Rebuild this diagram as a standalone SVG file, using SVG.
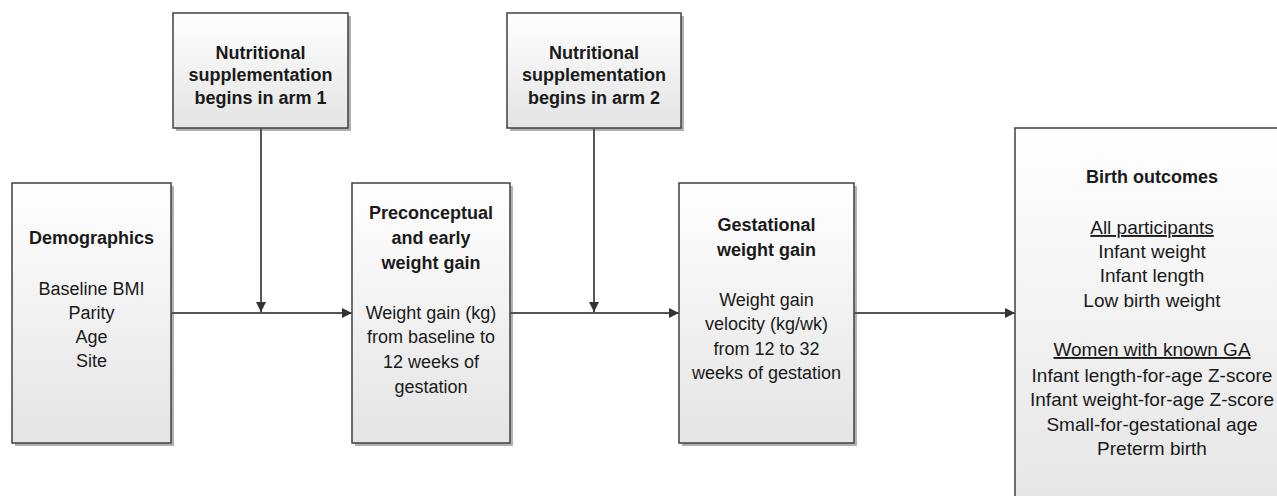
<svg xmlns="http://www.w3.org/2000/svg" width="1277" height="496" viewBox="0 0 1277 496">
<defs>
<linearGradient id="g" x1="0" y1="0" x2="0" y2="1">
<stop offset="0" stop-color="#ffffff"/>
<stop offset="1" stop-color="#e4e4e4"/>
</linearGradient>
<marker id="ah" viewBox="0 0 10 10" refX="10" refY="5" markerWidth="10" markerHeight="10" markerUnits="userSpaceOnUse" orient="auto">
<path d="M0,0 L10,5 L0,10 z" fill="#333"/>
</marker>
</defs>
<style>
.box{fill:url(#g);stroke:#404040;stroke-width:1.5}
.sh{fill:#b0b0b0}
.t{font-family:"Liberation Sans",Arial,sans-serif;font-size:18px;fill:#1a1a1a;text-anchor:middle}
.lg{font-size:19px}
.b{font-weight:bold}
.u{text-decoration:underline}
.c{stroke:#555;stroke-width:2;fill:none;marker-end:url(#ah)}
</style>
<rect width="1277" height="496" fill="#fff"/>
<g id="n-arm1">
<rect class="sh" x="176" y="16" width="175" height="115"/>
<rect class="box" x="173" y="13" width="175" height="115"/>
<text class="t b" x="260.5" y="59">Nutritional</text>
<text class="t b" x="260.5" y="81">supplementation</text>
<text class="t b" x="260.5" y="104">begins in arm 1</text>
</g>
<g id="n-arm2">
<rect class="sh" x="510" y="16" width="174" height="115"/>
<rect class="box" x="507" y="13" width="174" height="115"/>
<text class="t b" x="594" y="59">Nutritional</text>
<text class="t b" x="594" y="81">supplementation</text>
<text class="t b" x="594" y="104">begins in arm 2</text>
</g>
<g id="n-demo">
<rect class="sh" x="15" y="186" width="159" height="260"/>
<rect class="box" x="12" y="183" width="159" height="260"/>
<text class="t b" x="91.5" y="244">Demographics</text>
<text class="t" x="91.5" y="295">Baseline BMI</text>
<text class="t" x="91.5" y="319">Parity</text>
<text class="t" x="91.5" y="343">Age</text>
<text class="t" x="91.5" y="367">Site</text>
</g>
<g id="n-pre">
<rect class="sh" x="355" y="186" width="158" height="260"/>
<rect class="box" x="352" y="183" width="158" height="260"/>
<text class="t b" x="431" y="219">Preconceptual</text>
<text class="t b" x="431" y="244">and early</text>
<text class="t b" x="431" y="269">weight gain</text>
<text class="t" x="431" y="319">Weight gain (kg)</text>
<text class="t" x="431" y="343">from baseline to</text>
<text class="t" x="431" y="368">12 weeks of</text>
<text class="t" x="431" y="393">gestation</text>
</g>
<g id="n-gest">
<rect class="sh" x="682" y="186" width="175" height="260"/>
<rect class="box" x="679" y="183" width="175" height="260"/>
<text class="t b" x="766.5" y="231">Gestational</text>
<text class="t b" x="766.5" y="256">weight gain</text>
<text class="t" x="766.5" y="306">Weight gain</text>
<text class="t" x="766.5" y="330">velocity (kg/wk)</text>
<text class="t" x="766.5" y="355">from 12 to 32</text>
<text class="t" x="766.5" y="379">weeks of gestation</text>
</g>
<g id="n-birth">
<rect class="box" x="1015" y="128" width="290" height="400"/>
<text class="t b" x="1152" y="183">Birth outcomes</text>
<text class="t lg u" x="1152" y="234">All participants</text>
<text class="t lg" x="1152" y="258">Infant weight</text>
<text class="t lg" x="1152" y="282">Infant length</text>
<text class="t lg" x="1152" y="307">Low birth weight</text>
<text class="t lg u" x="1152" y="356">Women with known GA</text>
<text class="t lg" x="1152" y="382">Infant length-for-age Z-score</text>
<text class="t lg" x="1152" y="406">Infant weight-for-age Z-score</text>
<text class="t lg" x="1152" y="431">Small-for-gestational age</text>
<text class="t lg" x="1152" y="455">Preterm birth</text>
</g>
<g id="connectors">
<line class="c" x1="171" y1="313" x2="352" y2="313"/>
<line class="c" x1="261" y1="128" x2="261" y2="312"/>
<line class="c" x1="510" y1="313" x2="679" y2="313"/>
<line class="c" x1="594" y1="128" x2="594" y2="312"/>
<line class="c" x1="854" y1="313" x2="1015" y2="313"/>
</g>
</svg>
